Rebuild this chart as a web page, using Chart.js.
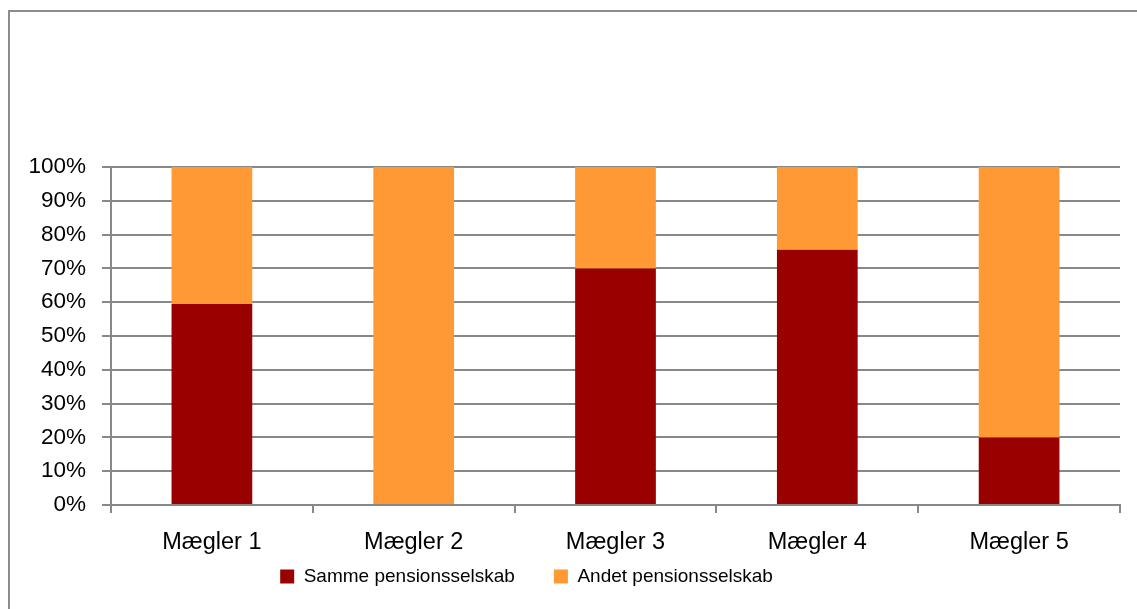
<!DOCTYPE html>
<html>
<head>
<meta charset="utf-8">
<script src="https://cdn.jsdelivr.net/npm/chart.js@4.4.1/dist/chart.umd.min.js"></script>
<style>
  html, body { margin:0; padding:0; background:#fff; overflow:hidden; }
  #frame { position:absolute; left:8px; top:10px; width:1400px; height:900px; border:2px solid #8c8c8c; box-sizing:border-box; }
  #wrap { position:absolute; left:0; top:0; width:1137px; height:609px; }
</style>
</head>
<body>
<div id="frame"></div>
<div id="wrap"><canvas id="c" width="1137" height="609"></canvas></div>
<script>
const categories = ["Mægler 1", "Mægler 2", "Mægler 3", "Mægler 4", "Mægler 5"];
const sammeValues = [59.5, 0, 70, 75.5, 20];
const andetValues = [40.5, 100, 30, 24.5, 80];
const seriesNames = ["Samme pensionsselskab", "Andet pensionsselskab"];
const yTickStep = 10;

const FONT = "'Liberation Sans', Arial, sans-serif";
const GRID = '#888888';

// Place the legend row where the original has it
const legendShift = {
  id: 'legendShift',
  afterLayout(chart) {
    const lg = chart.legend;
    if (lg) {
      const h = lg.bottom - lg.top;
      lg.left = 0; lg.right = 1053;
      lg.top = 528; lg.bottom = 528 + h;
    }
  }
};

new Chart(document.getElementById('c'), {
  type: 'bar',
  data: {
    labels: categories,
    datasets: [
      { label: seriesNames[0], data: sammeValues, backgroundColor: '#990000', borderWidth: 0 },
      { label: seriesNames[1], data: andetValues, backgroundColor: '#FF9933', borderWidth: 0 }
    ]
  },
  plugins: [legendShift],
  options: {
    responsive: false,
    animation: false,
    devicePixelRatio: 1,
    layout: { padding: { top: 167, right: 17, left: 0, bottom: -19 } },
    datasets: { bar: { categoryPercentage: 1.0, barPercentage: 0.4 } },
    plugins: {
      tooltip: { enabled: false },
      legend: {
        position: 'bottom',
        labels: {
          boxWidth: 14, boxHeight: 14, padding: 39,
          color: '#000',
          font: { family: FONT, size: 19 }
        }
      }
    },
    scales: {
      x: {
        stacked: true,
        afterFit: (s) => { s.height = 55; },
        grid: { display: true, offset: true, drawOnChartArea: false, drawTicks: true, tickLength: 8, color: GRID, lineWidth: 2 },
        border: { display: true, color: GRID, width: 2 },
        ticks: { color: '#000', font: { family: FONT, size: 23.5 }, padding: 15, maxRotation: 0 }
      },
      y: {
        stacked: true,
        min: 0, max: 100,
        afterFit: (s) => { s.width = 111; },
        grid: { color: GRID, lineWidth: 2, drawTicks: true, tickLength: 9 },
        border: { display: true, color: GRID, width: 2 },
        ticks: {
          stepSize: yTickStep,
          color: '#000',
          font: { family: FONT, size: 22.5 },
          padding: 16,
          callback: (v) => v + '%'
        }
      }
    }
  }
});
</script>
</body>
</html>
